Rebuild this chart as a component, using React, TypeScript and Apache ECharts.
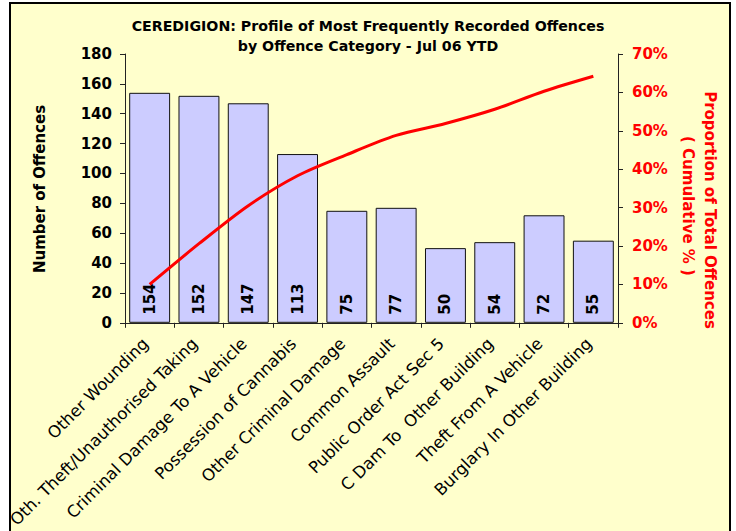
import React, { useEffect, useRef } from "react";
import * as echarts from "echarts";

const categories = [
  "Other Wounding",
  "Oth. Theft/Unauthorised Taking",
  "Criminal Damage To A Vehicle",
  "Possession of Cannabis",
  "Other Criminal Damage",
  "Common Assault",
  "Public Order Act Sec 5",
  "C Dam To  Other Building",
  "Theft From A Vehicle",
  "Burglary In Other Building",
];
const offences = [154, 152, 147, 113, 75, 77, 50, 54, 72, 55];
const cumulativePct = [10.0, 20.6, 30.5, 38.3, 43.8, 48.8, 51.9, 55.6, 60.3, 64.2];

const titleLines = [
  "CEREDIGION: Profile of Most Frequently Recorded Offences",
  "by Offence Category - Jul 06 YTD",
];
const leftAxisTitle = "Number of Offences";
const rightAxisTitleLines = ["Proportion of Total Offences", "( Cumulative % )"];

const FONT = "'DejaVu Sans', Verdana, sans-serif";

export default function App() {
  const ref = useRef<HTMLDivElement>(null);
  useEffect(() => {
    if (!ref.current) return;
    const chart = echarts.init(ref.current, null, { renderer: "svg" });
    const option: any = {
      animation: false,
      backgroundColor: "#ffffff",
      textStyle: { fontFamily: FONT },
      title: {
        text: titleLines.join("\n"),
        left: "center",
        top: 11,
        textStyle: {
          fontFamily: FONT,
          fontSize: 14.2,
          fontWeight: "bold",
          color: "#000",
          lineHeight: 20,
        },
      },
      grid: { left: 125, right: 118, top: 54, bottom: 207, containLabel: false },
      graphic: [
        {
          type: "rect",
          z: -10,
          shape: { x: 10, y: 3, width: 720, height: 545 },
          style: { fill: "#FFFFCC", stroke: "#000", lineWidth: 2 },
        },
        {
          type: "text",
          x: 40,
          y: 189,
          rotation: Math.PI / 2,
          style: {
            text: leftAxisTitle,
            fontFamily: FONT,
            fontSize: 15,
            fontWeight: "bold",
            fill: "#000",
            align: "center",
            verticalAlign: "middle",
          },
        },
        {
          type: "text",
          x: 710,
          y: 210,
          rotation: -Math.PI / 2,
          style: {
            text: rightAxisTitleLines[0],
            fontFamily: FONT,
            fontSize: 15,
            fontWeight: "bold",
            fill: "#FF0000",
            align: "center",
            verticalAlign: "middle",
          },
        },
        {
          type: "text",
          x: 688,
          y: 206,
          rotation: -Math.PI / 2,
          style: {
            text: rightAxisTitleLines[1],
            fontFamily: FONT,
            fontSize: 15,
            fontWeight: "bold",
            fill: "#FF0000",
            align: "center",
            verticalAlign: "middle",
          },
        },
      ],
      xAxis: {
        type: "category",
        data: categories,
        boundaryGap: true,
        axisLine: { lineStyle: { color: "#222", width: 1 } },
        axisTick: { show: true, length: 5, lineStyle: { color: "#222" } },
        axisLabel: {
          interval: 0,
          rotate: 45,
          margin: 14,
          padding: [0, 6, 0, 0],
          fontFamily: FONT,
          fontSize: 16.5,
          color: "#000",
        },
      },
      yAxis: [
        {
          type: "value",
          min: 0,
          max: 180,
          interval: 20,
          splitLine: { show: false },
          axisLine: { show: true, lineStyle: { color: "#222", width: 1 } },
          axisTick: { show: true, length: 5, lineStyle: { color: "#222" } },
          axisLabel: {
            margin: 13,
            fontFamily: FONT,
            fontSize: 15,
            fontWeight: "bold",
            color: "#000",
          },
        },
        {
          type: "value",
          min: 0,
          max: 70,
          interval: 10,
          position: "right",
          splitLine: { show: false },
          axisLine: { show: true, lineStyle: { color: "#222", width: 1 } },
          axisTick: { show: true, length: 5, lineStyle: { color: "#222" } },
          axisLabel: {
            margin: 14,
            fontFamily: FONT,
            fontSize: 15,
            fontWeight: "bold",
            color: "#FF0000",
            formatter: (v: number) => `${v}%`,
          },
        },
      ],
      series: [
        {
          type: "bar",
          data: offences,
          yAxisIndex: 0,
          barCategoryGap: "17%",
          itemStyle: { color: "#CCCCFF", borderColor: "#111", borderWidth: 1 },
          label: {
            show: true,
            position: "insideBottom",
            rotate: 90,
            align: "left",
            verticalAlign: "middle",
            distance: 8,
            fontFamily: FONT,
            fontSize: 15,
            fontWeight: "bold",
            color: "#000",
          },
          z: 2,
        },
        {
          type: "line",
          data: cumulativePct,
          yAxisIndex: 1,
          smooth: 0.3,
          symbol: "none",
          lineStyle: { color: "#FF0000", width: 3 },
          z: 3,
        },
      ],
    };
    chart.setOption(option);
    return () => chart.dispose();
  }, []);
  return (
    <div
      ref={ref}
      style={{ position: "absolute", left: 0, top: 0, width: 736, height: 531 }}
    />
  );
}
